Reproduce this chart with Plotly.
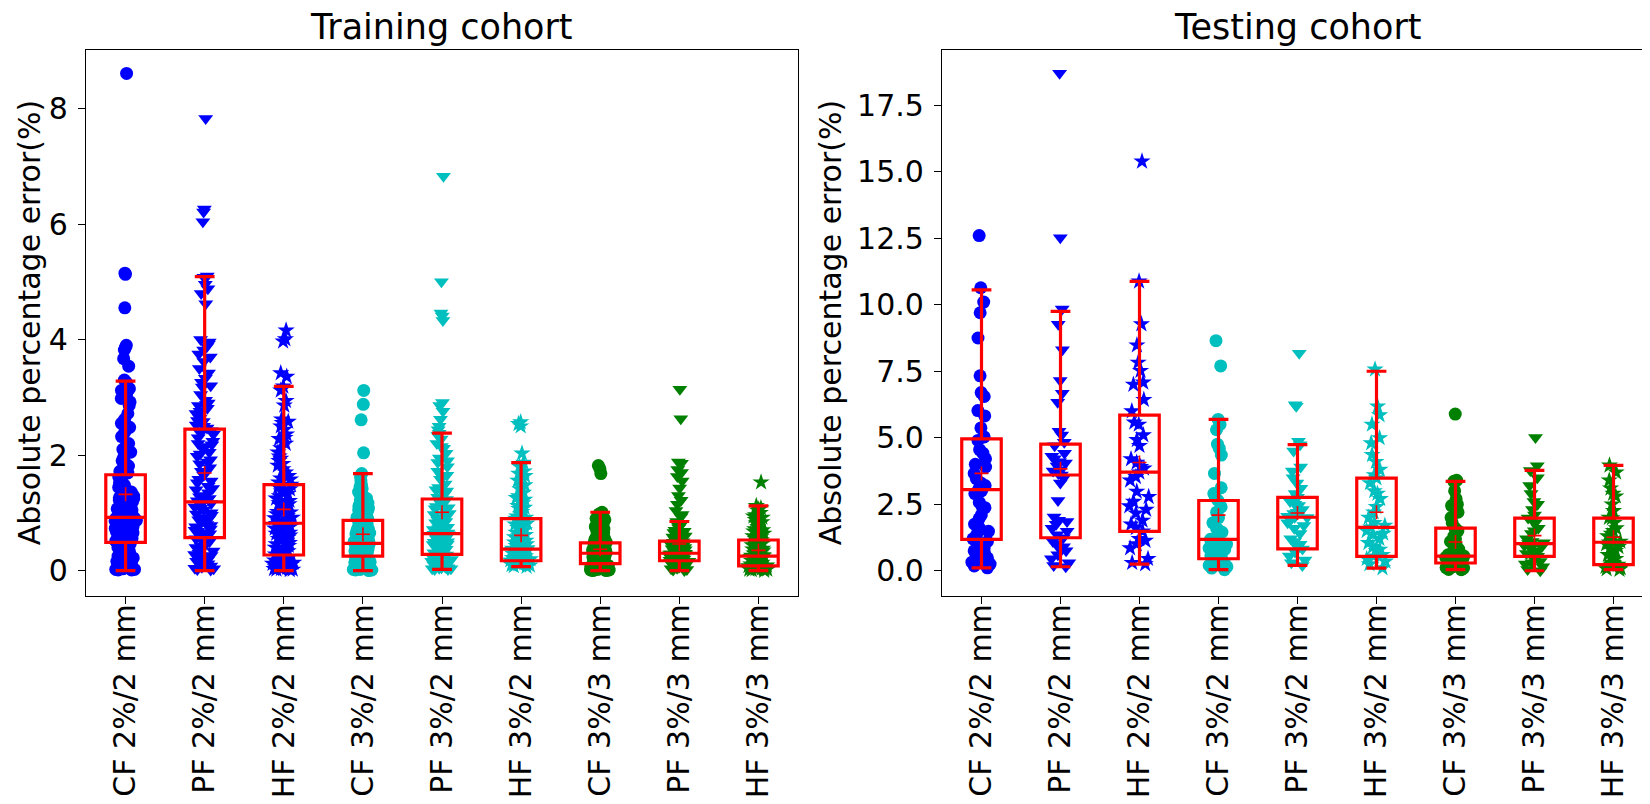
import plotly.graph_objects as go

CATEGORIES = ["CF 2%/2 mm", "PF 2%/2 mm", "HF 2%/2 mm",
              "CF 3%/2 mm", "PF 3%/2 mm", "HF 3%/2 mm",
              "CF 3%/3 mm", "PF 3%/3 mm", "HF 3%/3 mm"]

# training cohort, points per criterion
tr_cf22 = [8.61, 5.15, 5.13, 4.55, 3.90, 3.86, 3.82, 3.67, 3.54, 3.30, 3.26, 3.15, 3.12, 3.05, 2.92, 2.86,
           2.72, 2.55, 2.48, 2.32, 2.20, 2.16, 2.05, 1.96, 1.90, 1.84, 1.78, 1.72, 1.66, 1.62, 1.57, 1.52,
           1.48, 1.44, 1.40, 1.36, 1.33, 1.29, 1.25, 1.22, 1.19, 1.15, 1.12, 1.09, 1.05, 1.02, 0.99, 0.97,
           0.95, 0.93, 0.91, 0.89, 0.87, 0.85, 0.83, 0.81, 0.78, 0.76, 0.74, 0.72, 0.70, 0.67, 0.65, 0.63,
           0.60, 0.58, 0.56, 0.53, 0.51, 0.49, 0.46, 0.43, 0.40, 0.36, 0.33, 0.29, 0.25, 0.22, 0.18, 0.15,
           0.12, 0.09, 0.07, 0.05, 0.04, 0.03, 0.02, 0.02, 0.01, 0.01, 2.98, 2.62, 2.40, 2.10, 1.81, 1.69,
           1.55, 1.38, 1.26, 1.18, 1.07, 1.00, 0.94, 0.90, 0.86, 0.82, 0.77, 0.73, 0.69, 0.64, 0.59, 0.54,
           0.50, 0.45, 0.38, 0.31, 0.24, 0.16, 0.10, 0.06]
tr_pf22 = [7.83, 6.26, 6.21, 6.04, 5.10, 5.08, 4.96, 4.88, 4.80, 4.62, 4.00, 3.96, 3.92, 3.88, 3.82, 3.75,
           3.62, 3.50, 3.42, 3.33, 3.26, 3.18, 3.05, 2.95, 2.90, 2.86, 2.81, 2.76, 2.70, 2.64, 2.58, 2.52,
           2.47, 2.42, 2.36, 2.30, 2.24, 2.18, 2.12, 2.05, 1.98, 1.92, 1.85, 1.78, 1.72, 1.65, 1.58, 1.52,
           1.46, 1.40, 1.35, 1.30, 1.25, 1.21, 1.18, 1.14, 1.10, 1.05, 1.00, 0.96, 0.92, 0.88, 0.84, 0.80,
           0.76, 0.72, 0.68, 0.64, 0.60, 0.57, 0.54, 0.50, 0.46, 0.42, 0.38, 0.34, 0.30, 0.26, 0.22, 0.18,
           0.15, 0.12, 0.09, 0.06, 0.04, 0.02, 0.01, 0.03, 0.55, 0.70, 2.88, 2.72, 2.60, 2.50, 2.38, 2.20,
           2.02, 1.88, 1.70, 1.55, 1.42, 1.28, 1.16, 1.08, 0.98, 0.90, 0.78, 0.66, 0.52, 0.40, 0.28, 0.16,
           0.08, 3.70, 3.20, 2.15]
tr_hf22 = [4.16, 4.01, 3.97, 3.42, 3.36, 3.19, 3.12, 2.94, 2.86, 2.62, 2.56, 2.50, 2.44, 2.36, 2.28, 2.20,
           2.12, 2.05, 1.98, 1.90, 1.82, 1.76, 1.70, 1.64, 1.58, 1.53, 1.49, 1.45, 1.41, 1.37, 1.33, 1.29,
           1.25, 1.21, 1.17, 1.13, 1.09, 1.05, 1.01, 0.98, 0.95, 0.92, 0.89, 0.86, 0.83, 0.81, 0.79, 0.76,
           0.73, 0.70, 0.67, 0.64, 0.61, 0.58, 0.55, 0.52, 0.49, 0.46, 0.43, 0.40, 0.37, 0.34, 0.31, 0.28,
           0.26, 0.24, 0.22, 0.20, 0.18, 0.16, 0.14, 0.12, 0.10, 0.08, 0.07, 0.06, 0.05, 0.04, 0.03, 0.02,
           0.01, 0.02, 0.03, 0.05, 2.30, 1.85, 1.60, 1.40, 1.20, 1.02, 0.91, 0.84, 0.75, 0.66, 0.57, 0.48,
           0.39, 0.30, 0.21, 0.13, 0.06, 2.58, 1.94, 1.15]
tr_cf32 = [3.12, 2.88, 2.61, 2.04, 1.68, 1.62, 1.55, 1.48, 1.42, 1.36, 1.31, 1.27, 1.22, 1.17, 1.12, 1.08,
           1.04, 1.00, 0.96, 0.93, 0.90, 0.87, 0.84, 0.81, 0.78, 0.75, 0.72, 0.69, 0.66, 0.63, 0.61, 0.59,
           0.57, 0.55, 0.53, 0.51, 0.49, 0.48, 0.47, 0.46, 0.44, 0.42, 0.40, 0.38, 0.36, 0.34, 0.32, 0.30,
           0.28, 0.26, 0.25, 0.24, 0.22, 0.20, 0.18, 0.16, 0.14, 0.12, 0.10, 0.08, 0.06, 0.04, 0.03, 0.02,
           0.01, 0.00, 0.01, 0.02, 0.05, 0.15, 0.35, 0.45, 0.52, 0.65, 0.80, 1.25, 1.05, 0.92, 0.74, 0.60,
           0.50, 0.43, 0.37, 0.31, 0.27, 0.21, 0.13, 0.07, 1.45, 0.98]
tr_pf32 = [6.83, 5.00, 4.46, 4.41, 4.33, 2.91, 2.86, 2.76, 2.62, 2.50, 2.38, 2.34, 2.28, 2.20, 2.12, 2.03,
           1.95, 1.87, 1.80, 1.72, 1.65, 1.58, 1.50, 1.44, 1.38, 1.32, 1.27, 1.23, 1.19, 1.15, 1.11, 1.07,
           1.03, 0.99, 0.95, 0.91, 0.87, 0.83, 0.79, 0.75, 0.71, 0.68, 0.65, 0.63, 0.61, 0.58, 0.55, 0.52,
           0.49, 0.46, 0.43, 0.40, 0.37, 0.34, 0.31, 0.28, 0.26, 0.24, 0.22, 0.20, 0.18, 0.16, 0.14, 0.12,
           0.10, 0.08, 0.06, 0.05, 0.04, 0.03, 0.02, 0.02, 0.03, 0.30, 0.50, 0.70, 2.44, 2.15, 1.90, 1.62,
           1.40, 1.21, 1.09, 0.97, 0.85, 0.73, 0.62, 0.54, 0.45, 0.36, 0.27, 0.19, 0.11, 0.05]
tr_hf32 = [2.57, 2.54, 2.50, 2.03, 1.87, 1.80, 1.72, 1.64, 1.56, 1.48, 1.41, 1.35, 1.29, 1.23, 1.17, 1.12,
           1.07, 1.02, 0.98, 0.94, 0.90, 0.86, 0.82, 0.78, 0.74, 0.70, 0.66, 0.62, 0.58, 0.55, 0.52, 0.49,
           0.46, 0.43, 0.41, 0.39, 0.37, 0.36, 0.34, 0.32, 0.30, 0.28, 0.26, 0.24, 0.22, 0.20, 0.18, 0.17,
           0.16, 0.15, 0.14, 0.13, 0.12, 0.11, 0.10, 0.09, 0.08, 0.07, 0.25, 0.33, 0.45, 0.60, 0.80, 0.15,
           0.21, 0.38, 0.42, 1.68, 1.45, 1.26, 1.09, 0.92, 0.76, 0.64, 0.53, 0.44, 0.35, 0.29, 0.23, 0.19,
           0.12]
tr_cf33 = [1.82, 1.76, 1.68, 1.01, 0.98, 0.95, 0.92, 0.88, 0.84, 0.80, 0.76, 0.72, 0.68, 0.64, 0.60, 0.57,
           0.54, 0.51, 0.48, 0.46, 0.44, 0.42, 0.40, 0.38, 0.36, 0.34, 0.32, 0.31, 0.30, 0.29, 0.28, 0.27,
           0.26, 0.24, 0.22, 0.20, 0.18, 0.16, 0.14, 0.13, 0.12, 0.11, 0.10, 0.09, 0.08, 0.07, 0.06, 0.05,
           0.04, 0.03, 0.02, 0.01, 0.00, 0.00, 0.01, 0.02, 0.03, 0.05, 0.15, 0.25, 0.35, 0.45, 0.55, 0.70,
           0.90, 0.19, 0.33, 0.96, 0.86, 0.78, 0.66, 0.58, 0.49, 0.41, 0.37, 0.29, 0.23, 0.17, 0.09, 0.04]
tr_pf33 = [3.14, 2.63, 1.88, 1.86, 1.75, 1.63, 1.55, 1.43, 1.30, 1.15, 1.04, 0.93, 0.85, 0.82, 0.78, 0.74,
           0.70, 0.66, 0.62, 0.58, 0.55, 0.52, 0.50, 0.48, 0.46, 0.44, 0.42, 0.40, 0.38, 0.36, 0.34, 0.32,
           0.31, 0.30, 0.29, 0.28, 0.27, 0.26, 0.25, 0.24, 0.22, 0.21, 0.20, 0.19, 0.18, 0.17, 0.16, 0.15,
           0.14, 0.13, 0.12, 0.10, 0.08, 0.06, 0.05, 0.04, 0.03, 0.02, 0.01, 0.00, 0.35, 0.45, 0.60, 0.23,
           0.27, 1.70, 1.22, 0.97, 0.80, 0.68, 0.57, 0.49, 0.41, 0.33, 0.26, 0.20, 0.14, 0.07]
tr_hf33 = [1.53, 1.12, 1.08, 1.04, 1.00, 0.96, 0.92, 0.88, 0.84, 0.80, 0.76, 0.72, 0.68, 0.64, 0.60, 0.56,
           0.53, 0.50, 0.47, 0.44, 0.41, 0.38, 0.35, 0.32, 0.30, 0.28, 0.26, 0.25, 0.24, 0.22, 0.20, 0.18,
           0.16, 0.14, 0.12, 0.10, 0.09, 0.08, 0.07, 0.06, 0.05, 0.04, 0.03, 0.02, 0.01, 0.00, 0.02, 0.04,
           0.06, 0.11, 0.15, 0.21, 0.27, 0.33, 0.40, 0.48, 0.58, 0.70, 0.90, 0.05, 1.06, 0.94, 0.82, 0.66,
           0.55, 0.45, 0.37, 0.29, 0.23, 0.17, 0.13, 0.08, 0.03]

# testing cohort
te_cf22 = [12.6, 10.64, 10.1, 9.7, 8.75, 7.33, 6.7, 6.55, 6.02, 5.82, 5.37, 5.03, 4.55, 4.42, 4.21, 4.0,
           3.66, 3.46, 3.3, 3.2, 3.1, 3.0, 2.9, 2.57, 2.4, 2.37, 1.95, 1.75, 1.48, 1.35, 1.2, 1.1, 0.95,
           0.85, 0.75, 0.65, 0.55, 0.48, 0.4, 0.32, 0.25, 0.18, 0.11, 3.9, 4.9, 2.1, 1.6, 0.7]
te_pf22 = [18.7, 12.52, 9.84, 9.27, 8.31, 7.15, 6.67, 6.33, 5.24, 5.1, 4.83, 4.7, 4.42, 4.3, 4.21, 4.05,
           3.94, 3.8, 3.66, 3.6, 3.5, 3.3, 2.64, 2.02, 1.85, 1.75, 1.6, 1.48, 1.35, 1.24, 1.1, 1.0, 0.9,
           0.75, 0.6, 0.45, 0.3, 0.15, 0.2, 3.75, 4.1, 1.9, 0.8]
te_hf22 = [15.39, 10.88, 9.27, 8.48, 7.83, 7.52, 7.08, 7.0, 6.43, 5.58, 5.5, 5.1, 4.92, 4.7, 4.07, 3.91,
           3.85, 3.53, 3.4, 2.98, 2.78, 2.43, 2.3, 2.16, 1.89, 1.75, 1.61, 1.48, 1.13, 1.0, 0.85, 0.45,
           0.3, 0.25, 3.7, 4.2, 6.0, 2.6, 1.2]
te_cf32 = [8.65, 7.7, 5.69, 5.3, 4.76, 4.6, 4.35, 3.66, 3.12, 2.78, 2.64, 2.4, 2.2, 2.0, 1.8, 1.6, 1.45,
           1.3, 1.18, 1.1, 1.0, 0.9, 0.8, 0.7, 0.6, 0.5, 0.45, 0.4, 0.3, 0.2, 0.1, 0.04, 1.25, 0.85, 0.55,
           0.25, 2.9, 5.5, 1.5, 0.15]
te_pf32 = [8.18, 6.24, 6.18, 4.87, 4.74, 4.5, 3.75, 3.5, 3.3, 3.1, 2.9, 2.76, 2.6, 2.45, 2.3, 2.15, 2.05,
           2.01, 1.95, 1.8, 1.6, 1.4, 1.2, 1.0, 0.82, 0.7, 0.55, 0.4, 0.3, 0.2, 2.2, 2.5, 1.1, 0.9, 3.9,
           2.0, 1.7]
te_hf32 = [7.57, 6.18, 5.85, 4.99, 4.8, 4.36, 4.1, 3.8, 3.48, 3.3, 3.0, 2.7, 2.4, 2.2, 2.0, 1.8, 1.63,
           1.5, 1.35, 1.2, 1.05, 0.9, 0.75, 0.6, 0.54, 0.45, 0.35, 0.25, 0.1, 1.7, 2.9, 5.5, 0.8, 1.4, 3.6]
te_cf33 = [5.89, 3.4, 3.36, 3.0, 2.7, 2.45, 2.2, 2.0, 1.8, 1.6, 1.5, 1.3, 1.1, 0.95, 0.8, 0.7, 0.6, 0.55,
           0.5, 0.45, 0.4, 0.35, 0.3, 0.25, 0.2, 0.15, 0.1, 0.05, 0.04, 0.55, 0.6, 1.2, 2.5, 0.35, 0.3,
           0.7, 0.12, 1.0]
te_pf33 = [5.01, 3.95, 3.77, 3.5, 3.2, 2.9, 2.6, 2.3, 2.1, 1.98, 1.8, 1.6, 1.4, 1.2, 1.05, 1.02, 0.95,
           0.85, 0.75, 0.65, 0.54, 0.45, 0.35, 0.25, 0.15, 0.05, 0.0, 1.1, 1.5, 2.5, 0.6, 0.3, 1.9, 0.9]
te_hf33 = [3.96, 3.7, 3.4, 3.1, 2.8, 2.5, 2.25, 1.98, 1.8, 1.6, 1.4, 1.2, 1.07, 1.0, 0.9, 0.75, 0.6,
           0.45, 0.3, 0.23, 0.15, 0.1, 0.04, 1.1, 1.5, 2.0, 0.5, 0.2, 2.9, 1.3, 0.8, 0.06]

# box statistics as drawn
Q1_TR = [0.49, 0.57, 0.27, 0.25, 0.28, 0.17, 0.12, 0.17, 0.08]
MED_TR = [0.92, 1.19, 0.82, 0.47, 0.64, 0.37, 0.30, 0.30, 0.25]
Q3_TR = [1.66, 2.45, 1.49, 0.87, 1.24, 0.90, 0.48, 0.51, 0.53]
LO_TR = [0.00, 0.00, 0.00, 0.00, 0.02, 0.07, 0.00, 0.00, 0.00]
HI_TR = [3.28, 5.09, 3.19, 1.68, 2.38, 1.87, 1.01, 0.85, 1.12]
MEAN_TR = [1.32, 1.69, 1.06, 0.63, 1.01, 0.61, 0.37, 0.46, 0.35]

Q1_TE = [1.18, 1.24, 1.48, 0.45, 0.82, 0.54, 0.29, 0.54, 0.23]
MED_TE = [3.05, 3.60, 3.71, 1.18, 2.01, 1.63, 0.55, 1.02, 1.07]
Q3_TE = [4.96, 4.76, 5.85, 2.64, 2.76, 3.48, 1.60, 1.98, 1.98]
LO_TE = [0.11, 0.15, 0.25, 0.04, 0.20, 0.10, 0.04, 0.00, 0.04]
HI_TE = [10.56, 9.75, 10.88, 5.69, 4.74, 7.50, 3.36, 3.77, 3.96]
MEAN_TE = [3.66, 3.83, 4.07, 2.09, 2.17, 2.20, 1.08, 1.32, 1.26]

TRAIN = [tr_cf22, tr_pf22, tr_hf22, tr_cf32, tr_pf32, tr_hf32, tr_cf33, tr_pf33, tr_hf33]
TEST = [te_cf22, te_pf22, te_hf22, te_cf32, te_pf32, te_hf32, te_cf33, te_pf33, te_hf33]

SYMBOLS = ["circle", "triangle-down", "star"] * 3
COLORS = ["#0000ff"] * 3 + ["#00bfbf"] * 3 + ["#008000"] * 3
SIZES = [13, 13, 13] * 3
RED = "#ff0000"
FONT = "DejaVu Sans"

fig = go.Figure()

panels = [
    ("x", "y", TRAIN, Q1_TR, MED_TR, Q3_TR, LO_TR, HI_TR, MEAN_TR),
    ("x2", "y2", TEST, Q1_TE, MED_TE, Q3_TE, LO_TE, HI_TE, MEAN_TE),
]

for xa, ya, groups, q1, med, q3, lo, hi, mean in panels:
    # scatter of the individual cases (invisible box, jittered points)
    for i, vals in enumerate(groups):
        fig.add_trace(go.Box(
            x=[CATEGORIES[i]] * len(vals), y=vals, xaxis=xa, yaxis=ya,
            boxpoints="all", jitter=0.65, pointpos=0, width=0.45,
            fillcolor="rgba(0,0,0,0)", line=dict(color="rgba(0,0,0,0)", width=0),
            marker=dict(symbol=SYMBOLS[i], color=COLORS[i], size=SIZES[i], line=dict(width=0)),
            hoverinfo="y", showlegend=False,
        ))
    # red boxes from the drawn statistics
    fig.add_trace(go.Box(
        x=CATEGORIES, q1=q1, median=med, q3=q3, lowerfence=lo, upperfence=hi,
        xaxis=xa, yaxis=ya, boxpoints=False, width=0.5, whiskerwidth=0.5,
        fillcolor="rgba(0,0,0,0)", line=dict(color=RED, width=3.2), showlegend=False,
    ))
    fig.add_trace(go.Scatter(
        x=CATEGORIES, y=mean, xaxis=xa, yaxis=ya, mode="markers",
        marker=dict(symbol="cross-thin", size=10, line=dict(color=RED, width=1.6)),
        showlegend=False, hoverinfo="y",
    ))

axis_common = dict(
    showline=True, mirror=True, linecolor="black", linewidth=1.3,
    ticks="outside", ticklen=7, tickwidth=1.3, tickcolor="black",
    showgrid=False, zeroline=False, automargin=False,
    tickfont=dict(family=FONT, size=30, color="black"),
)
xcommon = dict(axis_common, type="category", categoryorder="array", categoryarray=CATEGORIES,
               range=[-0.5, 8.5], tickangle=-90, ticklabelstandoff=-12)

Y_DOMAIN = [1 - 588 / 804, 1 - 41.7 / 804]

fig.update_layout(
    width=1650, height=804,
    margin=dict(l=0, r=0, t=0, b=0),
    paper_bgcolor="white", plot_bgcolor="white",
    boxmode="overlay", showlegend=False,
    font=dict(family=FONT, color="black"),
    xaxis=dict(xcommon, domain=[78 / 1650, 790 / 1650], anchor="y"),
    xaxis2=dict(xcommon, domain=[934 / 1650, 1645 / 1650], anchor="y2"),
    yaxis=dict(axis_common, domain=Y_DOMAIN, anchor="x", range=[-0.44, 9.02],
               tick0=0, dtick=2, ticklabelstandoff=4),
    yaxis2=dict(axis_common, domain=Y_DOMAIN, anchor="x2", range=[-0.95, 19.59],
                tick0=0, dtick=2.5, tickformat=".1f", ticklabelstandoff=4),
)

ymid = (Y_DOMAIN[0] + Y_DOMAIN[1]) / 2
annotations = [
    dict(text="Training cohort", x=434 / 1650, y=1 - 19 / 804, font=dict(size=35)),
    dict(text="Testing cohort", x=1289.5 / 1650, y=1 - 19 / 804, font=dict(size=35)),
    dict(text="Absolute percentage error(%)", x=21.5 / 1650, y=ymid, textangle=-90, font=dict(size=30)),
    dict(text="Absolute percentage error(%)", x=822.5 / 1650, y=ymid, textangle=-90, font=dict(size=30)),
]
for a in annotations:
    a.update(xref="paper", yref="paper", xanchor="center", yanchor="middle", showarrow=False)
    a["font"].update(family=FONT, color="black")
fig.update_layout(annotations=annotations)

fig.write_html("out.html")
